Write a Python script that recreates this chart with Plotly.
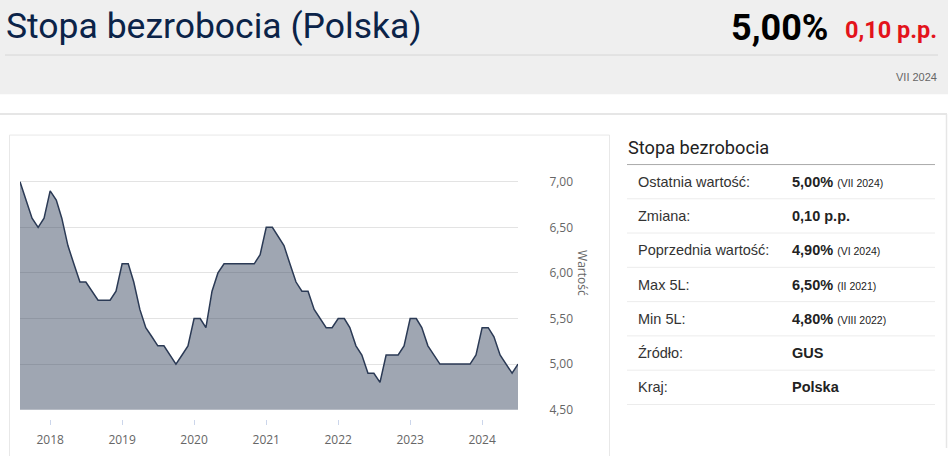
import pandas as pd
import plotly.graph_objects as go

W, H = 948, 456

# stopa bezrobocia, dane miesieczne od VIII 2017 do VII 2024
start_month = "2017-08-01"
rate = [7.0, 6.8, 6.6, 6.5, 6.6,
        6.9, 6.8, 6.6, 6.3, 6.1, 5.9, 5.9, 5.8, 5.7, 5.7, 5.7, 5.8,
        6.1, 6.1, 5.9, 5.6, 5.4, 5.3, 5.2, 5.2, 5.1, 5.0, 5.1, 5.2,
        5.5, 5.5, 5.4, 5.8, 6.0, 6.1, 6.1, 6.1, 6.1, 6.1, 6.1, 6.2,
        6.5, 6.5, 6.4, 6.3, 6.1, 5.9, 5.8, 5.8, 5.6, 5.5, 5.4, 5.4,
        5.5, 5.5, 5.4, 5.2, 5.1, 4.9, 4.9, 4.8, 5.1, 5.1, 5.1, 5.2,
        5.5, 5.5, 5.4, 5.2, 5.1, 5.0, 5.0, 5.0, 5.0, 5.0, 5.0, 5.1,
        5.4, 5.4, 5.3, 5.1, 5.0, 4.9, 5.0]
months = pd.date_range(start_month, periods=len(rate), freq="MS")

# tabela po prawej
row_labels = ["Ostatnia wartość:", "Zmiana:", "Poprzednia wartość:", "Max 5L:",
              "Min 5L:", "Źródło:", "Kraj:"]
row_values = ["5,00%", "0,10 p.p.", "4,90%", "6,50%", "4,80%", "GUS", "Polska"]
row_notes = ["(VII 2024)", "", "(VI 2024)", "(II 2021)", "(VIII 2022)", "", ""]


def px(x):
    return x / W


def py(y):
    return 1 - y / H


def note(text, x, y, anchor, font, **kw):
    return dict(text=text, xref="paper", yref="paper", x=px(x), y=py(y),
                xanchor=anchor, yanchor="middle", showarrow=False, font=font, **kw)


fig = go.Figure()
fig.add_trace(go.Scatter(
    x=months, y=rate, mode="lines", fill="tozeroy",
    line=dict(color="#2b3a55", width=1.5),
    fillcolor="rgba(43,58,85,0.45)", hoverinfo="skip", showlegend=False))

shapes = [
    # szary naglowek
    dict(type="rect", xref="paper", yref="paper", x0=0, x1=1, y0=py(96), y1=1,
         fillcolor="#efefef", line_width=0, layer="below"),
    dict(type="line", xref="paper", yref="paper", x0=px(5), x1=px(938),
         y0=py(56), y1=py(56), line=dict(color="#d6d6d6", width=1)),
    # ramka karty
    dict(type="line", xref="paper", yref="paper", x0=0, x1=px(947),
         y0=py(116), y1=py(116), line=dict(color="#e6e6e6", width=2)),
    dict(type="line", xref="paper", yref="paper", x0=px(946.5), x1=px(946.5),
         y0=0, y1=py(116), line=dict(color="#e6e6e6", width=1.5)),
    # ramka wykresu
    dict(type="rect", xref="paper", yref="paper", x0=px(9.5), x1=px(609.5),
         y0=-0.05, y1=py(137.5), line=dict(color="#e8e8e8", width=1)),
    # linia pod tytulem tabeli
    dict(type="line", xref="paper", yref="paper", x0=px(627), x1=px(935),
         y0=py(167.5), y1=py(167.5), line=dict(color="#aaaaaa", width=1)),
]

annotations = [
    note("Stopa bezrobocia (Polska)", 4, 26.5, "left",
         dict(family="Roboto", size=35.5, color="#0b2348")),
    note("<b>5,00%</b>", 830, 28, "right", dict(family="Roboto", size=36, color="#000000")),
    note("<b>0,10 p.p.</b>", 939, 31, "right", dict(family="Roboto", size=23.5, color="#e3131b")),
    note("VII 2024", 939, 78, "right", dict(family="Liberation Sans", size=11, color="#666666")),
    note("Stopa bezrobocia", 626, 150, "left", dict(family="Roboto", size=18.2, color="#222222")),
    note("Wartość", 583, 278, "center", dict(family="Open Sans", size=12, color="#666666"),
         textangle=90),
]

row_h = 34.9
for i, (lab, val, sub) in enumerate(zip(row_labels, row_values, row_notes)):
    yc = 185 + i * row_h
    annotations.append(note(lab, 636, yc, "left",
                            dict(family="Liberation Sans", size=14.5, color="#333333")))
    txt = "<b>" + val + "</b>"
    if sub:
        txt += " <span style='font-size:10.5px'>" + sub + "</span>"
    annotations.append(note(txt, 789.5, yc, "left",
                            dict(family="Liberation Sans", size=14.5, color="#222222")))
    shapes.append(dict(type="line", xref="paper", yref="paper", x0=px(627), x1=px(935),
                       y0=py(yc + 17.3), y1=py(yc + 17.3),
                       line=dict(color="#ececec", width=1)))

fig.update_layout(
    width=W, height=H, margin=dict(l=0, r=0, t=0, b=0),
    paper_bgcolor="white", plot_bgcolor="white",
    separators=", ",
    shapes=shapes, annotations=annotations,
    xaxis=dict(type="date", domain=[px(20), px(518)],
               range=[months[0], months[-1]],
               tick0="2018-01-01", dtick="M12", tickformat="%Y",
               showgrid=False, showline=False, zeroline=False,
               anchor="free", position=py(426.5),
               ticks="outside", ticklen=5, tickcolor="#ccd6eb", tickwidth=1,
               ticklabelstandoff=5,
               tickfont=dict(family="Open Sans", size=12, color="#666666")),
    yaxis=dict(domain=[py(417), py(175.7)], range=[4.5, 7.1], side="right",
               tick0=4.5, dtick=0.5, tickformat=".2f",
               showgrid=True, gridcolor="#e3e3e3", gridwidth=1,
               zeroline=False, showline=False,
               ticks="outside", ticklen=28, tickcolor="rgba(0,0,0,0)",
               tickfont=dict(family="Open Sans", size=12, color="#666666")),
)

fig.write_html("out.html", config={"displayModeBar": False},
               post_script="document.body.style.margin='0';")
